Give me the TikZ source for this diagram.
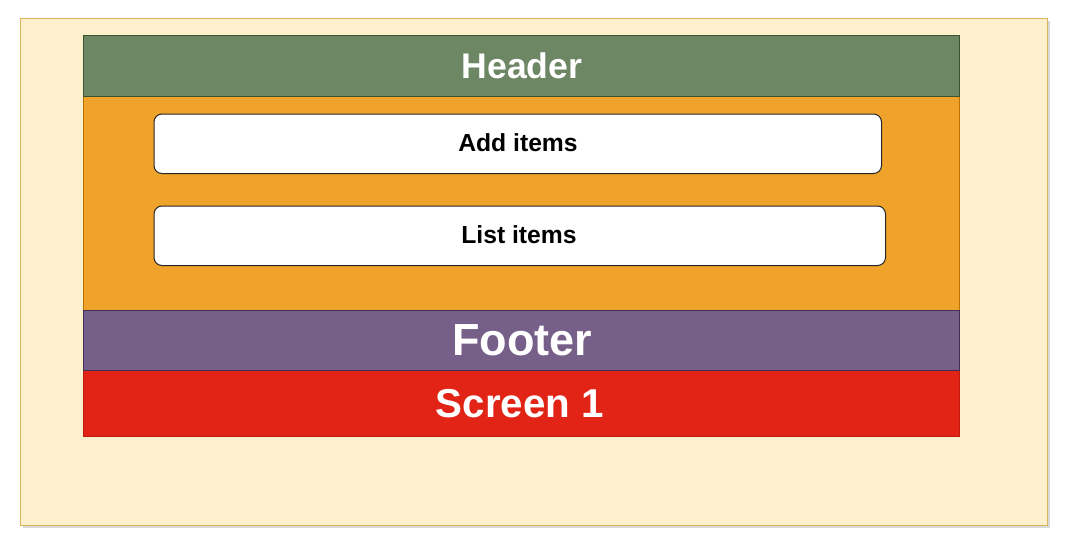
\documentclass[tikz,border=0pt]{standalone}
\usepackage{fontspec}
\setmainfont{Liberation Sans}
\definecolor{outerfill}{HTML}{FFF0CD}
\definecolor{outerdraw}{HTML}{D6B656}
\definecolor{hdrfill}{HTML}{6D8764}
\definecolor{hdrdraw}{HTML}{3A5431}
\definecolor{orgfill}{HTML}{EFA32B}
\definecolor{orgdraw}{HTML}{BD7000}
\definecolor{ftrfill}{HTML}{76608A}
\definecolor{ftrdraw}{HTML}{432D57}
\definecolor{redfill}{HTML}{E12416}
\definecolor{reddraw}{HTML}{C01B10}
\tikzset{
  band/.style={draw, line width=0.8pt, inner sep=0pt, anchor=north west},
  item/.style={draw=black!85, fill=white, line width=1pt, rounded corners=8pt, inner sep=0pt, anchor=north west},
  itemtxt/.style={font=\fontsize{24.7}{26}\selectfont\bfseries},
  whitetxt/.style={text=white, font=\fontsize{#1}{#1}\selectfont\bfseries},
}
\begin{document}
\begin{tikzpicture}[x=1pt,y=-1pt]
\useasboundingbox (0,0) rectangle (1065,535);
% outer canvas with shadow
\fill[black!25, opacity=0.6] (22.5,21.5) rectangle (1049.5,528);
\node[band, draw=outerdraw, fill=outerfill, minimum width=1027pt, minimum height=506.5pt] (outer) at (19.5,18.5) {};
% bands
\node[band, draw=orgdraw, fill=orgfill, minimum width=876pt, minimum height=214.5pt] (body) at (83,95.5) {};
\node[band, draw=hdrdraw, fill=hdrfill, minimum width=876pt, minimum height=60pt] (header) at (83,35.5) {};
\node[band, draw=reddraw, fill=redfill, minimum width=876pt, minimum height=66pt] (screen) at (83,370) {};
\node[band, draw=ftrdraw, fill=ftrfill, minimum width=876pt, minimum height=60pt] (footer) at (83,310) {};
% texts in bands
\node[whitetxt=35.6] (headertxt) at (522,66) {Header};
\node[whitetxt=45] (footertxt) at (522,340) {Footer};
\node[whitetxt=40.3] (screentxt) at (520,404) {Screen 1};
% items
\node[item, minimum width=727.5pt, minimum height=59.5pt] (add) at (153.5,113.5) {};
\node[itemtxt] (addtxt) at (518,143) {Add items};
\node[item, minimum width=731.5pt, minimum height=59.5pt] (list) at (153.5,205.5) {};
\node[itemtxt] (listtxt) at (519,235) {List items};
\end{tikzpicture}
\end{document}
